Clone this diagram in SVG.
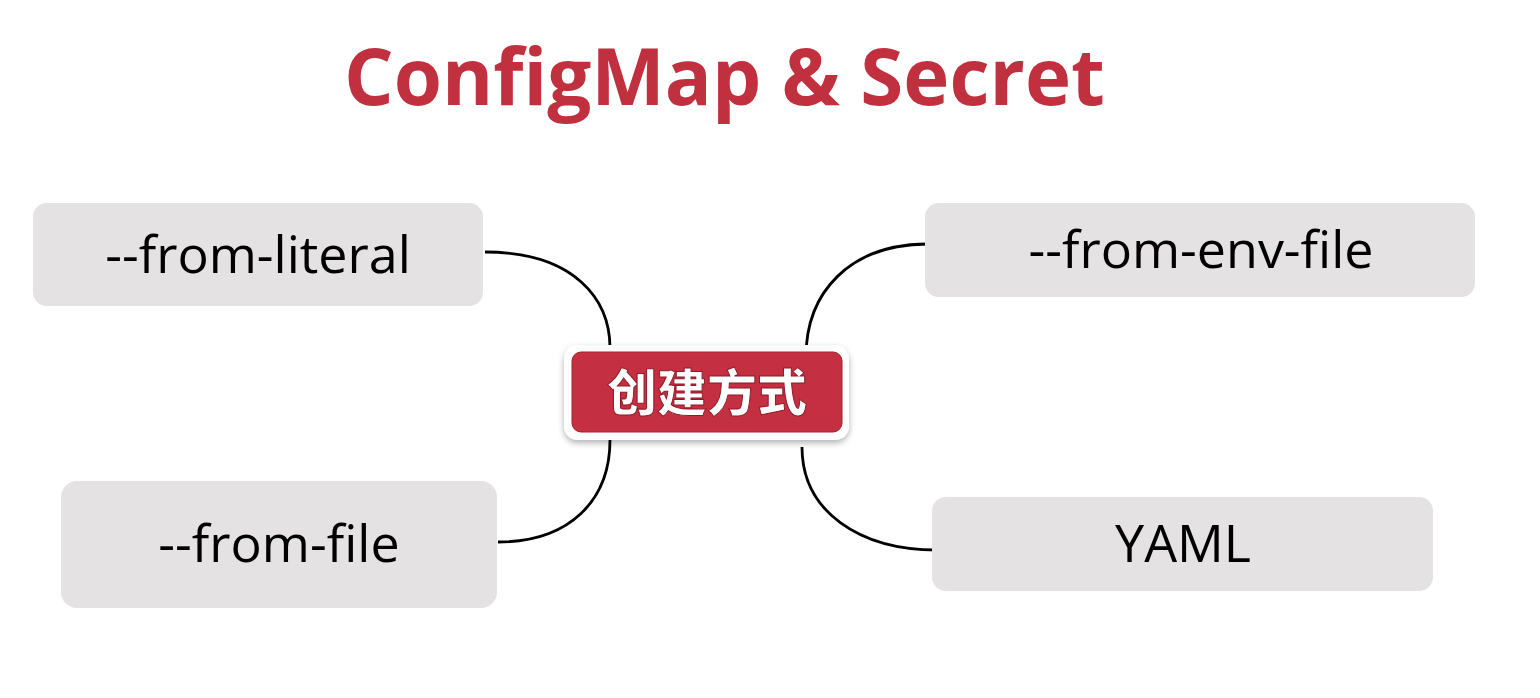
<svg xmlns="http://www.w3.org/2000/svg" width="1540" height="698" viewBox="0 0 1540 698">
<defs>
<style>
.box{fill:#E4E2E3;}
.lbl{font-family:"Open Sans","Noto Sans","Liberation Sans",sans-serif;font-size:52px;fill:#000;text-anchor:middle;}
.conn{fill:none;stroke:#000;stroke-width:2.8;}
.title{font-family:"Open Sans","Noto Sans","Liberation Sans",sans-serif;font-weight:bold;font-size:78px;fill:#C1303F;}
.ctext{font-family:"Noto Sans CJK SC","Noto Sans",sans-serif;font-weight:900;font-size:50px;fill:#fff;text-anchor:middle;}
</style>
<filter id="sh" x="-10%" y="-20%" width="120%" height="150%">
<feDropShadow dx="0" dy="3" stdDeviation="3" flood-color="#000" flood-opacity="0.3"/>
</filter>
</defs>
<rect width="1540" height="698" fill="#fff"/>
<text class="title" x="344" y="105">ConfigMap &amp; Secret</text>
<g id="connectors">
<path class="conn" d="M485,252 C575,252 610,300 610,348"/>
<path class="conn" d="M610,440 C610,500 570,542 498,542"/>
<path class="conn" d="M928,244 C850,244 806,292 806,357"/>
<path class="conn" d="M802,447 C802,512 860,550 937,550"/>
</g>
<g id="node-literal">
<rect class="box" x="33" y="203" width="450" height="103" rx="14"/>
<text class="lbl" x="258" y="273">--from-literal</text>
</g>
<g id="node-file">
<rect class="box" x="61" y="481" width="436" height="127" rx="16"/>
<text class="lbl" x="279" y="562">--from-file</text>
</g>
<g id="node-envfile">
<rect class="box" x="925" y="203" width="550" height="94" rx="14"/>
<text class="lbl" x="1201" y="268">--from-env-file</text>
</g>
<g id="node-yaml">
<rect class="box" x="932" y="497" width="501" height="94" rx="14"/>
<text class="lbl" x="1183" y="562">YAML</text>
</g>
<g id="node-center">
<rect x="564" y="345" width="285" height="95" rx="14" fill="#fff" filter="url(#sh)"/>
<rect x="572" y="352" width="270" height="80" rx="9" fill="#C42F41" stroke="#A8202F" stroke-width="1"/>
<text class="ctext" x="707" y="411" stroke="#8E1A26" stroke-width="1">创建方式</text>
</g>
</svg>
